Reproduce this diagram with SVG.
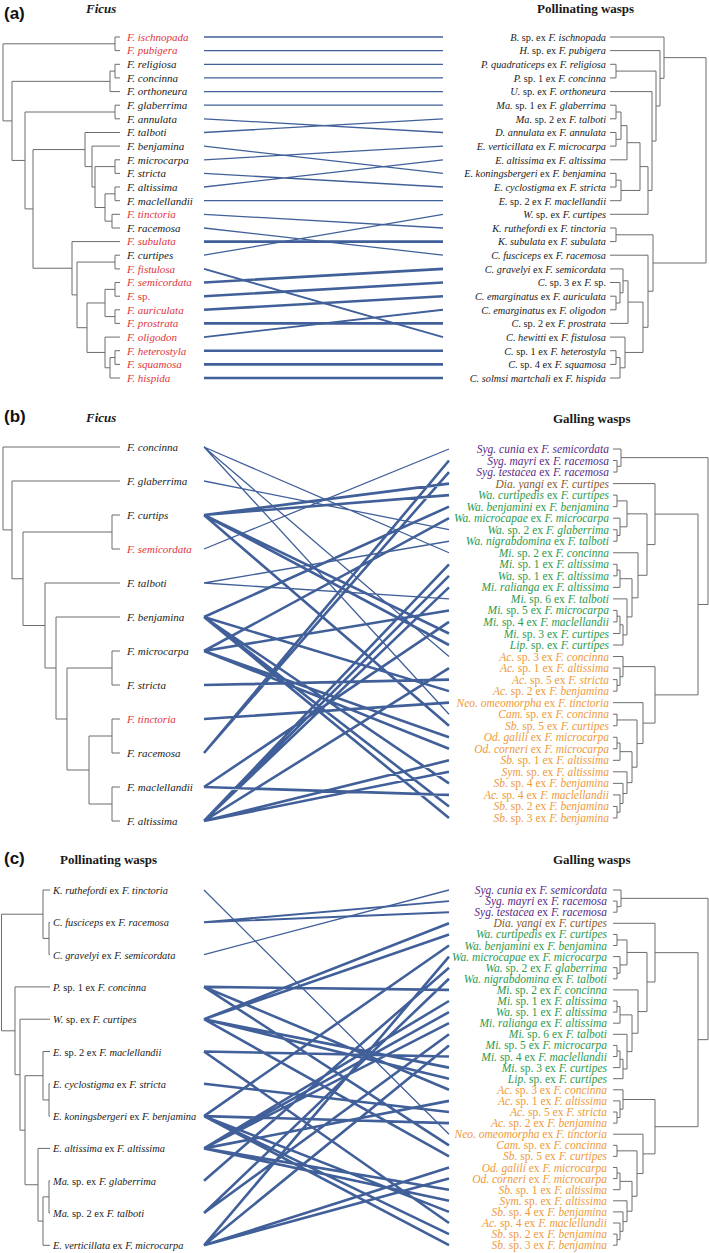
<svg xmlns="http://www.w3.org/2000/svg" width="709" height="1253" viewBox="0 0 709 1253">
<style>
.bg{fill:#ffffff}
.tr{fill:none;stroke:#6d6d6d;stroke-width:1}
.ln{fill:none;stroke:#41609a;stroke-linecap:butt}
.n{stroke-width:1.3}
.m{stroke-width:1.9}
.k{stroke-width:2.6}
text{font-family:"Liberation Serif","Times New Roman",serif;fill:#1a1a1a}
.i{font-style:italic}
.la{font-size:11px;font-style:italic}
.ra{font-size:10.3px;text-anchor:end}
.lb{font-size:11px;font-style:italic}
.rb{font-size:11.5px;text-anchor:end}
.lc{font-size:10.4px}
.red{fill:#e0353d}
.pu{fill:#5a2a86}
.br{fill:#8a5a2c}
.gr{fill:#2e9a4c}
.or{fill:#ee9a3a}
.ti{font-weight:bold;font-size:13px}
.pl{font-family:"Liberation Sans",Arial,sans-serif;font-weight:bold;font-size:17px;fill:#111}
</style>
<rect class="bg" x="0" y="0" width="709" height="1253"/>

<!-- ===== Panel (a) ===== -->
<g id="titles-a">
<text class="pl" x="4" y="19">(a)</text>
<text class="ti i" x="86" y="13">Ficus</text>
<text class="ti" x="537" y="13">Pollinating wasps</text>
</g>

<g id="tree-a-left">
<path class="tr" d="M3,43.8V120.9M3,43.8H115M3,120.9H12
M115,37V50.6M115,37H120M115,50.6H120
M12,81.35V160.45M12,81.35H110M12,160.45H25
M110,71.1V91.6M110,71.1H115M110,91.6H120
M115,64.3V77.9M115,64.3H120M115,77.9H120
M25,112V208.9M25,112H115M25,208.9H33
M115,105.2V118.8M115,105.2H120M115,118.8H120
M33,149.55V268.24M33,149.55H85M33,268.24H72
M85,132.5V166.6M85,132.5H120M85,166.6H92
M92,146.1V187.05M92,146.1H120M92,187.05H95
M95,166.6V207.5M95,166.6H115M95,207.5H105
M115,159.8V173.4M115,159.8H120M115,173.4H120
M105,193.85V221.15M105,193.85H115M105,221.15H112
M115,187V200.7M115,187H120M115,200.7H120
M112,214.3V228M112,214.3H120M112,228H120
M72,241.6V294.88M72,241.6H120M72,294.88H77
M77,262.05V327.71M77,262.05H115M77,327.71H87
M115,255.2V268.9M115,255.2H120M115,268.9H120
M87,302.98V352.44M87,302.98H105M87,352.44H105
M105,289.35V316.6M105,289.35H115M105,316.6H115
M115,282.5V296.2M115,282.5H120M115,296.2H120
M115,309.8V323.4M115,309.8H120M115,323.4H120
M105,337.1V367.78M105,337.1H120M105,367.78H110
M110,357.55V378M110,357.55H115M110,378H120
M115,350.7V364.4M115,350.7H120M115,364.4H120"/>
</g>

<g id="labels-a-left" class="la">
<g id="a-f1"><text class="red" x="127" y="40.8">F. ischnopada</text></g>
<g id="a-f2"><text class="red" x="127" y="54.4">F. pubigera</text></g>
<g id="a-f3"><text x="127" y="68.1">F. religiosa</text></g>
<g id="a-f4"><text x="127" y="81.7">F. concinna</text></g>
<g id="a-f5"><text x="127" y="95.4">F. orthoneura</text></g>
<g id="a-f6"><text x="127" y="109">F. glaberrima</text></g>
<g id="a-f7"><text x="127" y="122.6">F. annulata</text></g>
<g id="a-f8"><text x="127" y="136.3">F. talboti</text></g>
<g id="a-f9"><text x="127" y="149.9">F. benjamina</text></g>
<g id="a-f10"><text x="127" y="163.6">F. microcarpa</text></g>
<g id="a-f11"><text x="127" y="177.2">F. stricta</text></g>
<g id="a-f12"><text x="127" y="190.8">F. altissima</text></g>
<g id="a-f13"><text x="127" y="204.5">F. maclellandii</text></g>
<g id="a-f14"><text class="red" x="127" y="218.1">F. tinctoria</text></g>
<g id="a-f15"><text x="127" y="231.8">F. racemosa</text></g>
<g id="a-f16"><text class="red" x="127" y="245.4">F. subulata</text></g>
<g id="a-f17"><text x="127" y="259">F. curtipes</text></g>
<g id="a-f18"><text class="red" x="127" y="272.7">F. fistulosa</text></g>
<g id="a-f19"><text class="red" x="127" y="286.3">F. semicordata</text></g>
<g id="a-f20"><text class="red" x="127" y="300">F. <tspan font-style="normal">sp.</tspan></text></g>
<g id="a-f21"><text class="red" x="127" y="313.6">F. auriculata</text></g>
<g id="a-f22"><text class="red" x="127" y="327.2">F. prostrata</text></g>
<g id="a-f23"><text class="red" x="127" y="340.9">F. oligodon</text></g>
<g id="a-f24"><text class="red" x="127" y="354.5">F. heterostyla</text></g>
<g id="a-f25"><text class="red" x="127" y="368.2">F. squamosa</text></g>
<g id="a-f26"><text class="red" x="127" y="381.8">F. hispida</text></g>
</g>

<g id="labels-a-right" class="ra">
<g id="a-p1"><text x="606" y="40.8"><tspan class="i">B.</tspan> sp. ex <tspan class="i">F. ischnopada</tspan></text></g>
<g id="a-p2"><text x="606" y="54.4"><tspan class="i">H.</tspan> sp. ex <tspan class="i">F. pubigera</tspan></text></g>
<g id="a-p3"><text x="606" y="68.1"><tspan class="i">P. quadraticeps</tspan> ex <tspan class="i">F. religiosa</tspan></text></g>
<g id="a-p4"><text x="606" y="81.7"><tspan class="i">P.</tspan> sp. 1 ex <tspan class="i">F. concinna</tspan></text></g>
<g id="a-p5"><text x="606" y="95.4"><tspan class="i">U.</tspan> sp. ex <tspan class="i">F. orthoneura</tspan></text></g>
<g id="a-p6"><text x="606" y="109"><tspan class="i">Ma.</tspan> sp. 1 ex <tspan class="i">F. glaberrima</tspan></text></g>
<g id="a-p7"><text x="606" y="122.6"><tspan class="i">Ma.</tspan> sp. 2 ex <tspan class="i">F. talboti</tspan></text></g>
<g id="a-p8"><text x="606" y="136.3"><tspan class="i">D. annulata</tspan> ex <tspan class="i">F. annulata</tspan></text></g>
<g id="a-p9"><text x="606" y="149.9"><tspan class="i">E. verticillata</tspan> ex <tspan class="i">F. microcarpa</tspan></text></g>
<g id="a-p10"><text x="606" y="163.6"><tspan class="i">E. altissima</tspan> ex <tspan class="i">F. altissima</tspan></text></g>
<g id="a-p11"><text x="606" y="177.2"><tspan class="i">E. koningsbergeri</tspan> ex <tspan class="i">F. benjamina</tspan></text></g>
<g id="a-p12"><text x="606" y="190.8"><tspan class="i">E. cyclostigma</tspan> ex <tspan class="i">F. stricta</tspan></text></g>
<g id="a-p13"><text x="606" y="204.5"><tspan class="i">E.</tspan> sp. 2 ex <tspan class="i">F. maclellandii</tspan></text></g>
<g id="a-p14"><text x="606" y="218.1"><tspan class="i">W.</tspan> sp. ex <tspan class="i">F. curtipes</tspan></text></g>
<g id="a-p15"><text x="606" y="231.8"><tspan class="i">K. ruthefordi</tspan> ex <tspan class="i">F. tinctoria</tspan></text></g>
<g id="a-p16"><text x="606" y="245.4"><tspan class="i">K. subulata</tspan> ex <tspan class="i">F. subulata</tspan></text></g>
<g id="a-p17"><text x="606" y="259"><tspan class="i">C. fusciceps</tspan> ex <tspan class="i">F. racemosa</tspan></text></g>
<g id="a-p18"><text x="606" y="272.7"><tspan class="i">C. gravelyi</tspan> ex <tspan class="i">F. semicordata</tspan></text></g>
<g id="a-p19"><text x="606" y="286.3"><tspan class="i">C.</tspan> sp. 3 ex <tspan class="i">F.</tspan> sp.</text></g>
<g id="a-p20"><text x="606" y="300"><tspan class="i">C. emarginatus</tspan> ex <tspan class="i">F. auriculata</tspan></text></g>
<g id="a-p21"><text x="606" y="313.6"><tspan class="i">C. emarginatus</tspan> ex <tspan class="i">F. oligodon</tspan></text></g>
<g id="a-p22"><text x="606" y="327.2"><tspan class="i">C.</tspan> sp. 2 ex <tspan class="i">F. prostrata</tspan></text></g>
<g id="a-p23"><text x="606" y="340.9"><tspan class="i">C. hewitti</tspan> ex <tspan class="i">F. fistulosa</tspan></text></g>
<g id="a-p24"><text x="606" y="354.5"><tspan class="i">C.</tspan> sp. 1 ex <tspan class="i">F. heterostyla</tspan></text></g>
<g id="a-p25"><text x="606" y="368.2"><tspan class="i">C.</tspan> sp. 4 ex <tspan class="i">F. squamosa</tspan></text></g>
<g id="a-p26"><text x="606" y="381.8"><tspan class="i">C. solmsi martchali</tspan> ex <tspan class="i">F. hispida</tspan></text></g>
</g>

<g id="tree-a-right">
<path class="tr" d="M610,64.3H616M610,77.9H616M616,64.3V77.9
M610,105.2H616M610,118.8H616M616,105.2V118.8
M610,132.5H616M610,146.1H616M616,132.5V146.1
M616,112H621M616,139.3H621M621,112V139.3
M621,125.65H627M610,159.8H627M627,125.65V159.8
M610,173.4H616M610,187H616M616,173.4V187
M616,180.2H621M610,200.7H621M621,180.2V200.7
M627,142.7H640M621,190.45H640M640,142.7V190.45
M640,166.6H648M610,214.3H648M648,166.6V214.3
M610,91.6H652M648,190.45H652M652,91.6V190.45
M616,71.1H656M652,141H656M656,71.1V141
M610,50.6H660M656,106H660M660,50.6V106
M610,37H664M660,78.3H664M664,37V78.3
M664,57.65H706M653,263H706M706,57.65V263
M610,228H616M610,241.6H616M616,228V241.6
M610,296.2H616M610,309.8H616M616,296.2V309.8
M610,282.5H620M616,303H620M620,282.5V303
M610,268.9H623M620,292.75H623M623,268.9V292.75
M623,280.8H628M610,323.4H628M628,280.8V323.4
M610,350.7H616M610,364.4H616M616,350.7V364.4
M616,357.55H620M610,378H620M620,357.55V378
M610,337.1H625M620,367.8H625M625,337.1V367.8
M628,302.1H643M625,352.45H643M643,302.1V352.45
M610,255.2H648M643,327.3H648M648,255.2V327.3
M616,234.8H653M648,291.25H653M653,234.8V291.25"/>
</g>

<g id="connectors-a">
<path class="ln n" d="M204,37L443,37M204,50.6L443,50.6M204,64.3L443,64.3M204,77.9L443,77.9M204,91.6L443,91.6M204,105.2L443,105.2M204,118.8L443,132.5M204,132.5L443,118.8M204,146.1L443,173.4M204,159.8L443,146.1M204,173.4L443,187M204,187L443,159.8M204,200.7L443,200.7M204,214.3L443,228M204,228L443,255.2M204,255.2L443,214.3"/>
<path class="ln m" d="M204,268.9L443,337.1M204,337.1L443,309.8"/>
<path class="ln k" d="M204,241.6L443,241.6M204,282.5L443,268.9M204,296.2L443,282.5M204,309.8L443,296.2M204,323.4L443,323.4M204,350.7L443,350.7M204,364.4L443,364.4M204,378L443,378"/>
</g>

<!-- ===== Panel (b) ===== -->
<g id="titles-b">
<text class="pl" x="4" y="422">(b)</text>
<text class="ti i" x="86" y="422">Ficus</text>
<text class="ti" x="553" y="423">Galling wasps</text>
</g>

<g id="tree-b-left">
<path class="tr" d="M3,447V529.9M3,447H120M3,529.9H12
M12,481V578.75M12,481H120M12,578.75H23
M23,532V625.5M23,532H112M23,625.5H45
M112,515V549M112,515H120M112,549H120
M45,583V668M45,583H120M45,668H56
M56,617V719M56,617H120M56,719H67
M67,668V770M67,668H112M67,770H89
M112,651V685M112,651H120M112,685H120
M89,736V804M89,736H112M89,804H112
M112,719V753M112,719H120M112,753H120
M112,787V821M112,787H120M112,821H120"/>
</g>

<g id="labels-b-left" class="lb">
<g id="b-f1"><text x="127" y="451">F. concinna</text></g>
<g id="b-f2"><text x="127" y="485">F. glaberrima</text></g>
<g id="b-f3"><text x="127" y="519">F. curtips</text></g>
<g id="b-f4"><text class="red" x="127" y="553">F. semicordata</text></g>
<g id="b-f5"><text x="127" y="587">F. talboti</text></g>
<g id="b-f6"><text x="127" y="621">F. benjamina</text></g>
<g id="b-f7"><text x="127" y="655">F. microcarpa</text></g>
<g id="b-f8"><text x="127" y="689">F. stricta</text></g>
<g id="b-f9"><text class="red" x="127" y="723">F. tinctoria</text></g>
<g id="b-f10"><text x="127" y="757">F. racemosa</text></g>
<g id="b-f11"><text x="127" y="791">F. maclellandii</text></g>
<g id="b-f12"><text x="127" y="825">F. altissima</text></g>
</g>

<g id="labels-b-right" class="rb">
<g id="b-g1"><text class="pu" x="609" y="453"><tspan class="i">Syg. cunia</tspan> ex <tspan class="i">F. semicordata</tspan></text></g>
<g id="b-g2"><text class="pu" x="609" y="464.5"><tspan class="i">Syg. mayri</tspan> ex <tspan class="i">F. racemosa</tspan></text></g>
<g id="b-g3"><text class="pu" x="609" y="476.1"><tspan class="i">Syg. testacea</tspan> ex <tspan class="i">F. racemosa</tspan></text></g>
<g id="b-g4"><text class="br" x="609" y="487.6"><tspan class="i">Dia. yangi</tspan> ex <tspan class="i">F. curtipes</tspan></text></g>
<g id="b-g5"><text class="gr" x="609" y="499.1"><tspan class="i">Wa. curtipedis</tspan> ex <tspan class="i">F. curtipes</tspan></text></g>
<g id="b-g6"><text class="gr" x="609" y="510.7"><tspan class="i">Wa. benjamini</tspan> ex <tspan class="i">F. benjamina</tspan></text></g>
<g id="b-g7"><text class="gr" x="609" y="522.2"><tspan class="i">Wa. microcapae</tspan> ex <tspan class="i">F. microcarpa</tspan></text></g>
<g id="b-g8"><text class="gr" x="609" y="533.7"><tspan class="i">Wa.</tspan> sp. 2 ex <tspan class="i">F. glaberrima</tspan></text></g>
<g id="b-g9"><text class="gr" x="609" y="545.2"><tspan class="i">Wa. nigrabdomina</tspan> ex <tspan class="i">F. talboti</tspan></text></g>
<g id="b-g10"><text class="gr" x="609" y="556.8"><tspan class="i">Mi.</tspan> sp. 2 ex <tspan class="i">F. concinna</tspan></text></g>
<g id="b-g11"><text class="gr" x="609" y="568.3"><tspan class="i">Mi.</tspan> sp. 1 ex <tspan class="i">F. altissima</tspan></text></g>
<g id="b-g12"><text class="gr" x="609" y="579.8"><tspan class="i">Wa.</tspan> sp. 1 ex <tspan class="i">F. altissima</tspan></text></g>
<g id="b-g13"><text class="gr" x="609" y="591.4"><tspan class="i">Mi. ralianga</tspan> ex <tspan class="i">F. altissima</tspan></text></g>
<g id="b-g14"><text class="gr" x="609" y="602.9"><tspan class="i">Mi.</tspan> sp. 6 ex <tspan class="i">F. talboti</tspan></text></g>
<g id="b-g15"><text class="gr" x="609" y="614.4"><tspan class="i">Mi.</tspan> sp. 5 ex <tspan class="i">F. microcarpa</tspan></text></g>
<g id="b-g16"><text class="gr" x="609" y="626"><tspan class="i">Mi.</tspan> sp. 4 ex <tspan class="i">F. maclellandii</tspan></text></g>
<g id="b-g17"><text class="gr" x="609" y="637.5"><tspan class="i">Mi.</tspan> sp. 3 ex <tspan class="i">F. curtipes</tspan></text></g>
<g id="b-g18"><text class="gr" x="609" y="649"><tspan class="i">Lip.</tspan> sp. ex <tspan class="i">F. curtipes</tspan></text></g>
<g id="b-g19"><text class="or" x="609" y="660.5"><tspan class="i">Ac.</tspan> sp. 3 ex <tspan class="i">F. concinna</tspan></text></g>
<g id="b-g20"><text class="or" x="609" y="672.1"><tspan class="i">Ac.</tspan> sp. 1 ex <tspan class="i">F. altissima</tspan></text></g>
<g id="b-g21"><text class="or" x="609" y="683.6"><tspan class="i">Ac.</tspan> sp. 5 ex <tspan class="i">F. stricta</tspan></text></g>
<g id="b-g22"><text class="or" x="609" y="695.1"><tspan class="i">Ac.</tspan> sp. 2 ex <tspan class="i">F. benjamina</tspan></text></g>
<g id="b-g23"><text class="or" x="609" y="706.7"><tspan class="i">Neo. omeomorpha</tspan> ex <tspan class="i">F. tinctoria</tspan></text></g>
<g id="b-g24"><text class="or" x="609" y="718.2"><tspan class="i">Cam.</tspan> sp. ex <tspan class="i">F. concinna</tspan></text></g>
<g id="b-g25"><text class="or" x="609" y="729.7"><tspan class="i">Sb.</tspan> sp. 5 ex <tspan class="i">F. curtipes</tspan></text></g>
<g id="b-g26"><text class="or" x="609" y="741.3"><tspan class="i">Od. galili</tspan> ex <tspan class="i">F. microcarpa</tspan></text></g>
<g id="b-g27"><text class="or" x="609" y="752.8"><tspan class="i">Od. corneri</tspan> ex <tspan class="i">F. microcarpa</tspan></text></g>
<g id="b-g28"><text class="or" x="609" y="764.3"><tspan class="i">Sb.</tspan> sp. 1 ex <tspan class="i">F. altissima</tspan></text></g>
<g id="b-g29"><text class="or" x="609" y="775.8"><tspan class="i">Sym.</tspan> sp. ex <tspan class="i">F. altissima</tspan></text></g>
<g id="b-g30"><text class="or" x="609" y="787.4"><tspan class="i">Sb.</tspan> sp. 4 ex <tspan class="i">F. benjamina</tspan></text></g>
<g id="b-g31"><text class="or" x="609" y="798.9"><tspan class="i">Ac.</tspan> sp. 4 ex <tspan class="i">F. maclellandii</tspan></text></g>
<g id="b-g32"><text class="or" x="609" y="810.4"><tspan class="i">Sb.</tspan> sp. 2 ex <tspan class="i">F. benjamina</tspan></text></g>
<g id="b-g33"><text class="or" x="609" y="822"><tspan class="i">Sb.</tspan> sp. 3 ex <tspan class="i">F. benjamina</tspan></text></g>
</g>

<g id="tree-b-right">
<path class="tr" d="M613,460.53H617M613,472.06H617M617,460.53V472.06
M613,449H621M617,466.3H621M621,449V466.3
M621,457.65H708M698,604.47H708M708,457.65V604.47
M613,495.12H617M613,506.65H617M617,495.12V506.65
M613,529.71H617M613,541.24H617M617,529.71V541.24
M613,518.18H620M617,535.48H620M620,518.18V535.48
M617,500.89H627M620,526.83H627M627,500.89V526.83
M613,564.3H617M613,575.83H617M617,564.3V575.83
M617,570.07H620M613,587.36H620M620,570.07V587.36
M613,610.42H617M613,621.95H617M617,610.42V621.95
M617,616.19H620M613,633.48H620M620,616.19V633.48
M620,624.83H623M613,645.01H623M623,624.83V645.01
M613,598.89H627M623,634.92H627M627,598.89V634.92
M620,578.71H632M627,616.91H632M632,578.71V616.91
M613,552.77H638M632,597.81H638M638,552.77V597.81
M627,513.86H647M638,575.29H647M647,513.86V575.29
M613,483.59H655M647,544.57H655M655,483.59V544.57
M655,514.09H698M655,694.87H698M698,514.09V694.87
M613,679.6H617M613,691.13H617M617,679.6V691.13
M613,668.07H620M617,685.37H620M620,668.07V685.37
M613,656.54H623M620,676.72H623M623,656.54V676.72
M613,714.19H617M613,725.72H617M617,714.19V725.72
M613,737.25H617M613,748.78H617M617,737.25V748.78
M617,743.02H620M613,760.31H620M620,743.02V760.31
M613,806.43H617M613,817.96H617M617,806.43V817.96
M613,794.9H620M617,812.2H620M620,794.9V812.2
M613,783.37H623M620,803.55H623M623,783.37V803.55
M613,771.84H627M623,793.46H627M627,771.84V793.46
M620,751.66H632M627,782.65H632M632,751.66V782.65
M617,719.96H637M632,767.16H637M637,719.96V767.16
M613,702.66H643M637,743.56H643M643,702.66V743.56
M623,666.63H655M643,723.1H655M655,666.63V723.1"/>
</g>

<g id="connectors-b">
<path class="ln n" d="M204,447L449,552.77M204,447L449,656.54M204,447L449,714.19M204,481L449,529.71M204,549L449,449M204,583L449,541.24M204,583L449,598.89"/>
<path class="ln k" d="M204,515L449,483.59M204,515L449,495.12M204,515L449,633.48M204,515L449,645.01M204,515L449,725.72
M204,617L449,506.65M204,617L449,691.13M204,617L449,783.37M204,617L449,806.43M204,617L449,817.96
M204,651L449,518.18M204,651L449,610.42M204,651L449,737.25M204,651L449,748.78
M204,685L449,679.6M204,719L449,702.66M204,753L449,460.53M204,753L449,472.06
M204,787L449,621.95M204,787L449,794.9
M204,821L449,564.3M204,821L449,575.83M204,821L449,587.36M204,821L449,668.07M204,821L449,760.31M204,821L449,771.84"/>
</g>

<!-- ===== Panel (c) ===== -->
<g id="titles-c">
<text class="pl" x="4" y="864">(c)</text>
<text class="ti" x="60" y="864">Pollinating wasps</text>
<text class="ti" x="553" y="864">Galling wasps</text>
</g>

<g id="tree-c-left">
<path class="tr" d="M1.5,914.2V1030.8M1.5,914.2H43M1.5,1030.8H15
M43,890V938.45M43,890H50M43,938.45H49
M49,922.3V954.6M49,922.3H50M49,954.6H50
M15,986.9V1074.7M15,986.9H50M15,1074.7H20
M20,1019.2V1130.2M20,1019.2H50M20,1130.2H25
M25,1075.7V1184.75M25,1075.7H43M25,1184.75H38
M43,1051.5V1099.95M43,1051.5H50M43,1099.95H49
M49,1083.8V1116.1M49,1083.8H50M49,1116.1H50
M38,1148.4V1221.1M38,1148.4H50M38,1221.1H43
M43,1196.85V1245.3M43,1196.85H49M43,1245.3H50
M49,1180.7V1213M49,1180.7H50M49,1213H50"/>
</g>

<g id="labels-c-left" class="lc">
<g id="c-p1"><text x="53" y="894"><tspan class="i">K. ruthefordi</tspan> ex <tspan class="i">F. tinctoria</tspan></text></g>
<g id="c-p2"><text x="53" y="926.3"><tspan class="i">C. fusciceps</tspan> ex <tspan class="i">F. racemosa</tspan></text></g>
<g id="c-p3"><text x="53" y="958.6"><tspan class="i">C. gravelyi</tspan> ex <tspan class="i">F. semicordata</tspan></text></g>
<g id="c-p4"><text x="53" y="990.9"><tspan class="i">P.</tspan> sp. 1 ex <tspan class="i">F. concinna</tspan></text></g>
<g id="c-p5"><text x="53" y="1023.2"><tspan class="i">W.</tspan> sp. ex <tspan class="i">F. curtipes</tspan></text></g>
<g id="c-p6"><text x="53" y="1055.5"><tspan class="i">E.</tspan> sp. 2 ex <tspan class="i">F. maclellandii</tspan></text></g>
<g id="c-p7"><text x="53" y="1087.8"><tspan class="i">E. cyclostigma</tspan> ex <tspan class="i">F. stricta</tspan></text></g>
<g id="c-p8"><text x="53" y="1120.1"><tspan class="i">E. koningsbergeri</tspan> ex <tspan class="i">F. benjamina</tspan></text></g>
<g id="c-p9"><text x="53" y="1152.4"><tspan class="i">E. altissima</tspan> ex <tspan class="i">F. altissima</tspan></text></g>
<g id="c-p10"><text x="53" y="1184.7"><tspan class="i">Ma.</tspan> sp. ex <tspan class="i">F. glaberrima</tspan></text></g>
<g id="c-p11"><text x="53" y="1217"><tspan class="i">Ma.</tspan> sp. 2 ex <tspan class="i">F. talboti</tspan></text></g>
<g id="c-p12"><text x="53" y="1249.3"><tspan class="i">E. verticillata</tspan> ex <tspan class="i">F. microcarpa</tspan></text></g>
</g>

<g id="labels-c-right" class="rb">
<g id="c-g1"><text class="pu" x="607" y="894"><tspan class="i">Syg. cunia</tspan> ex <tspan class="i">F. semicordata</tspan></text></g>
<g id="c-g2"><text class="pu" x="607" y="905.1"><tspan class="i">Syg. mayri</tspan> ex <tspan class="i">F. racemosa</tspan></text></g>
<g id="c-g3"><text class="pu" x="607" y="916.2"><tspan class="i">Syg. testacea</tspan> ex <tspan class="i">F. racemosa</tspan></text></g>
<g id="c-g4"><text class="br" x="607" y="927.3"><tspan class="i">Dia. yangi</tspan> ex <tspan class="i">F. curtipes</tspan></text></g>
<g id="c-g5"><text class="gr" x="607" y="938.4"><tspan class="i">Wa. curtipedis</tspan> ex <tspan class="i">F. curtipes</tspan></text></g>
<g id="c-g6"><text class="gr" x="607" y="949.5"><tspan class="i">Wa. benjamini</tspan> ex <tspan class="i">F. benjamina</tspan></text></g>
<g id="c-g7"><text class="gr" x="607" y="960.6"><tspan class="i">Wa. microcapae</tspan> ex <tspan class="i">F. microcarpa</tspan></text></g>
<g id="c-g8"><text class="gr" x="607" y="971.7"><tspan class="i">Wa.</tspan> sp. 2 ex <tspan class="i">F. glaberrima</tspan></text></g>
<g id="c-g9"><text class="gr" x="607" y="982.8"><tspan class="i">Wa. nigrabdomina</tspan> ex <tspan class="i">F. talboti</tspan></text></g>
<g id="c-g10"><text class="gr" x="607" y="993.9"><tspan class="i">Mi.</tspan> sp. 2 ex <tspan class="i">F. concinna</tspan></text></g>
<g id="c-g11"><text class="gr" x="607" y="1005"><tspan class="i">Mi.</tspan> sp. 1 ex <tspan class="i">F. altissima</tspan></text></g>
<g id="c-g12"><text class="gr" x="607" y="1016.1"><tspan class="i">Wa.</tspan> sp. 1 ex <tspan class="i">F. altissima</tspan></text></g>
<g id="c-g13"><text class="gr" x="607" y="1027.2"><tspan class="i">Mi. ralianga</tspan> ex <tspan class="i">F. altissima</tspan></text></g>
<g id="c-g14"><text class="gr" x="607" y="1038.3"><tspan class="i">Mi.</tspan> sp. 6 ex <tspan class="i">F. talboti</tspan></text></g>
<g id="c-g15"><text class="gr" x="607" y="1049.4"><tspan class="i">Mi.</tspan> sp. 5 ex <tspan class="i">F. microcarpa</tspan></text></g>
<g id="c-g16"><text class="gr" x="607" y="1060.5"><tspan class="i">Mi.</tspan> sp. 4 ex <tspan class="i">F. maclellandii</tspan></text></g>
<g id="c-g17"><text class="gr" x="607" y="1071.6"><tspan class="i">Mi.</tspan> sp. 3 ex <tspan class="i">F. curtipes</tspan></text></g>
<g id="c-g18"><text class="gr" x="607" y="1082.7"><tspan class="i">Lip.</tspan> sp. ex <tspan class="i">F. curtipes</tspan></text></g>
<g id="c-g19"><text class="or" x="607" y="1093.8"><tspan class="i">Ac.</tspan> sp. 3 ex <tspan class="i">F. concinna</tspan></text></g>
<g id="c-g20"><text class="or" x="607" y="1104.9"><tspan class="i">Ac.</tspan> sp. 1 ex <tspan class="i">F. altissima</tspan></text></g>
<g id="c-g21"><text class="or" x="607" y="1116"><tspan class="i">Ac.</tspan> sp. 5 ex <tspan class="i">F. stricta</tspan></text></g>
<g id="c-g22"><text class="or" x="607" y="1127.1"><tspan class="i">Ac.</tspan> sp. 2 ex <tspan class="i">F. benjamina</tspan></text></g>
<g id="c-g23"><text class="or" x="607" y="1138.2"><tspan class="i">Neo. omeomorpha</tspan> ex <tspan class="i">F. tinctoria</tspan></text></g>
<g id="c-g24"><text class="or" x="607" y="1149.3"><tspan class="i">Cam.</tspan> sp. ex <tspan class="i">F. concinna</tspan></text></g>
<g id="c-g25"><text class="or" x="607" y="1160.4"><tspan class="i">Sb.</tspan> sp. 5 ex <tspan class="i">F. curtipes</tspan></text></g>
<g id="c-g26"><text class="or" x="607" y="1171.5"><tspan class="i">Od. galili</tspan> ex <tspan class="i">F. microcarpa</tspan></text></g>
<g id="c-g27"><text class="or" x="607" y="1182.6"><tspan class="i">Od. corneri</tspan> ex <tspan class="i">F. microcarpa</tspan></text></g>
<g id="c-g28"><text class="or" x="607" y="1193.7"><tspan class="i">Sb.</tspan> sp. 1 ex <tspan class="i">F. altissima</tspan></text></g>
<g id="c-g29"><text class="or" x="607" y="1204.8"><tspan class="i">Sym.</tspan> sp. ex <tspan class="i">F. altissima</tspan></text></g>
<g id="c-g30"><text class="or" x="607" y="1215.9"><tspan class="i">Sb.</tspan> sp. 4 ex <tspan class="i">F. benjamina</tspan></text></g>
<g id="c-g31"><text class="or" x="607" y="1227"><tspan class="i">Ac.</tspan> sp. 4 ex <tspan class="i">F. maclellandii</tspan></text></g>
<g id="c-g32"><text class="or" x="607" y="1238.1"><tspan class="i">Sb.</tspan> sp. 2 ex <tspan class="i">F. benjamina</tspan></text></g>
<g id="c-g33"><text class="or" x="607" y="1249.2"><tspan class="i">Sb.</tspan> sp. 3 ex <tspan class="i">F. benjamina</tspan></text></g>
</g>

<g id="tree-c-right">
<path class="tr" d="M613,901.1H617M613,912.2H617M617,901.1V912.2
M613,890H621M617,906.65H621M621,890V906.65
M621,898.33H708M698,1039.67H708M708,898.33V1039.67
M613,934.4H617M613,945.5H617M617,934.4V945.5
M613,967.7H617M613,978.8H617M617,967.7V978.8
M613,956.6H620M617,973.25H620M620,956.6V973.25
M617,939.95H627M620,964.93H627M627,939.95V964.93
M613,1001H617M613,1012.1H617M617,1001V1012.1
M617,1006.55H620M613,1023.2H620M620,1006.55V1023.2
M613,1045.4H617M613,1056.5H617M617,1045.4V1056.5
M617,1050.95H620M613,1067.6H620M620,1050.95V1067.6
M620,1059.28H623M613,1078.7H623M623,1059.28V1078.7
M613,1034.3H627M623,1068.99H627M627,1034.3V1068.99
M620,1014.88H632M627,1051.64H632M632,1014.88V1051.64
M613,989.9H638M632,1033.26H638M638,989.9V1033.26
M627,952.44H647M638,1011.58H647M647,952.44V1011.58
M613,923.3H655M647,982.01H655M655,923.3V982.01
M655,952.66H698M655,1126.7H698M698,952.66V1126.7
M613,1112H617M613,1123.1H617M617,1112V1123.1
M613,1100.9H620M617,1117.55H620M620,1100.9V1117.55
M613,1089.8H623M620,1109.23H623M623,1089.8V1109.23
M613,1145.3H617M613,1156.4H617M617,1145.3V1156.4
M613,1167.5H617M613,1178.6H617M617,1167.5V1178.6
M617,1173.05H620M613,1189.7H620M620,1173.05V1189.7
M613,1234.1H617M613,1245.2H617M617,1234.1V1245.2
M613,1223H620M617,1239.65H620M620,1223V1239.65
M613,1211.9H623M620,1231.33H623M623,1211.9V1231.33
M613,1200.8H627M623,1221.61H627M627,1200.8V1221.61
M620,1181.38H632M627,1211.21H632M632,1181.38V1211.21
M617,1150.85H637M632,1196.29H637M637,1150.85V1196.29
M613,1134.2H643M637,1173.57H643M643,1134.2V1173.57
M623,1099.51H655M643,1153.88H655M655,1099.51V1153.88"/>
</g>

<g id="connectors-c">
<path class="ln n" d="M204,890L449,1134.2M204,954.6L449,890"/>
<path class="ln m" d="M204,922.3L449,901.1M204,922.3L449,912.2"/>
<path class="ln k" d="M204,986.9L449,989.9M204,986.9L449,1089.8M204,986.9L449,1145.3
M204,1019.2L449,923.3M204,1019.2L449,934.4M204,1019.2L449,1067.6M204,1019.2L449,1078.7M204,1019.2L449,1156.4
M204,1051.5L449,1056.5M204,1051.5L449,1223
M204,1083.8L449,1112
M204,1116.1L449,945.5M204,1116.1L449,1123.1M204,1116.1L449,1211.9M204,1116.1L449,1234.1M204,1116.1L449,1245.2
M204,1148.4L449,1001M204,1148.4L449,1012.1M204,1148.4L449,1023.2M204,1148.4L449,1100.9M204,1148.4L449,1189.7M204,1148.4L449,1200.8
M204,1180.7L449,967.7
M204,1213L449,978.8M204,1213L449,1034.3
M204,1245.3L449,956.6M204,1245.3L449,1045.4M204,1245.3L449,1167.5M204,1245.3L449,1178.6"/>
</g>
</svg>
